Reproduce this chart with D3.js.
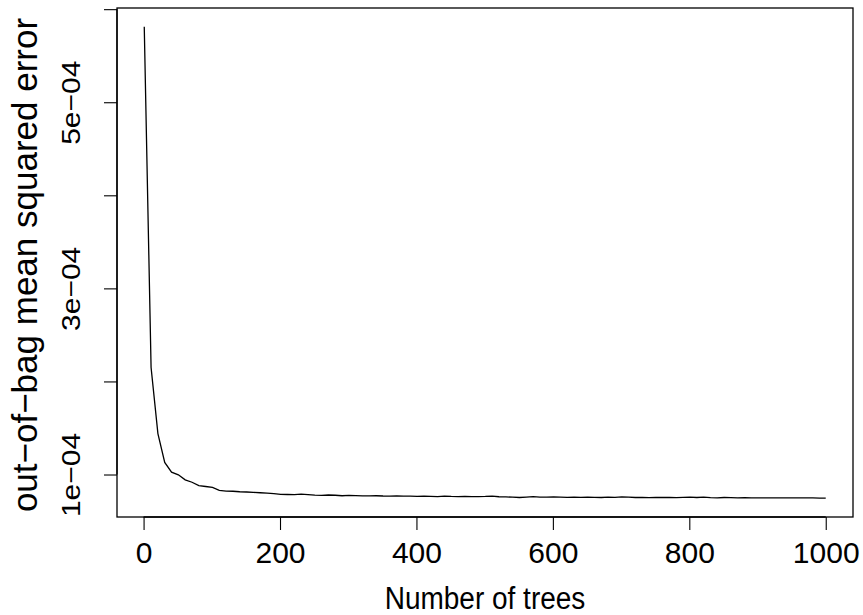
<!DOCTYPE html>
<html>
<head>
<meta charset="utf-8">
<script src="https://cdn.jsdelivr.net/npm/d3@7"></script>
<style>
  html, body { margin: 0; padding: 0; background: #fff; }
  text { font-family: "Liberation Sans", Arial, Helvetica, sans-serif; fill: #000; }
</style>
</head>
<body>
<script>
// trees at which the OOB error was recorded
const trees = [1, 11, 21, 31, 41, 51, 61, 71, 81, 91,
  101, 111, 121, 131, 141, 151, 161, 171, 181, 191,
  201, 211, 221, 231, 241, 251, 261, 271, 281, 291,
  301, 311, 321, 331, 341, 351, 361, 371, 381, 391,
  401, 411, 421, 431, 441, 451, 461, 471, 481, 491,
  501, 511, 521, 531, 541, 551, 561, 571, 581, 591,
  601, 611, 621, 631, 641, 651, 661, 671, 681, 691,
  701, 711, 721, 731, 741, 751, 761, 771, 781, 791,
  801, 811, 821, 831, 841, 851, 861, 871, 881, 891,
  901, 911, 921, 931, 941, 951, 961, 971, 981, 991, 1000];

// out-of-bag MSE, in units of 1e-04
const mse = [5.81, 2.15, 1.44, 1.13, 1.025, 0.997, 0.943, 0.917, 0.880, 0.871,
  0.862, 0.830, 0.822, 0.820, 0.815, 0.812, 0.808, 0.804, 0.800, 0.794,
  0.787, 0.785, 0.783, 0.790, 0.784, 0.778, 0.776, 0.780, 0.777, 0.772,
  0.775, 0.774, 0.771, 0.770, 0.772, 0.769, 0.768, 0.770, 0.767, 0.768,
  0.766, 0.768, 0.765, 0.763, 0.768, 0.764, 0.762, 0.765, 0.763, 0.762,
  0.764, 0.768, 0.761, 0.759, 0.757, 0.753, 0.758, 0.762, 0.758, 0.756,
  0.759, 0.757, 0.755, 0.757, 0.754, 0.756, 0.755, 0.753, 0.756, 0.754,
  0.760, 0.756, 0.753, 0.755, 0.752, 0.754, 0.753, 0.755, 0.752, 0.754,
  0.757, 0.753, 0.758, 0.752, 0.750, 0.753, 0.751, 0.749, 0.751, 0.750,
  0.749, 0.748, 0.750, 0.749, 0.750, 0.749, 0.748, 0.749, 0.748, 0.747, 0.746];

const xTicks = [0, 200, 400, 600, 800, 1000];
const yTicks = [1, 2, 3, 4, 5, 6];
const yLabelled = [1, 3, 5];

const W = 863, H = 615;
const box = { left: 117, right: 853, top: 8, bottom: 517 };

const data = trees.map((t, i) => ({ t: t, v: mse[i] }));

// R style axis extension: 4% each side
function rlim(ext) {
  const pad = (ext[1] - ext[0]) * 0.04;
  return [ext[0] - pad, ext[1] + pad];
}

const x = d3.scaleLinear().domain(rlim(d3.extent(trees))).range([box.left, box.right]);
const y = d3.scaleLinear().domain(rlim(d3.extent(mse))).range([box.bottom, box.top]);

const svg = d3.select('body').append('svg')
  .attr('width', W).attr('height', H);

svg.append('rect')
  .attr('x', box.left).attr('y', box.top)
  .attr('width', box.right - box.left).attr('height', box.bottom - box.top)
  .attr('fill', 'none').attr('stroke', '#000').attr('stroke-width', 1.3);

svg.append('path')
  .datum(data)
  .attr('fill', 'none')
  .attr('stroke', '#000')
  .attr('stroke-width', 1.3)
  .attr('d', d3.line().x(d => x(d.t)).y(d => y(d.v)));

const ff = '"Liberation Sans", Arial, sans-serif';

// x axis
const xAxis = svg.append('g')
  .attr('transform', `translate(0,${box.bottom})`)
  .call(d3.axisBottom(x).tickValues(xTicks).tickSize(13).tickSizeOuter(0)
    .tickFormat(d3.format('d')));
xAxis.select('.domain').attr('d', `M${x(xTicks[0])},0H${x(xTicks[xTicks.length - 1])}`)
  .attr('stroke-width', 1.3);
xAxis.selectAll('.tick line').attr('stroke-width', 1.1);
xAxis.selectAll('.tick text')
  .attr('dy', null)
  .attr('y', 46)
  .style('font-size', '30px')
  .style('font-family', ff);

// y axis
const yAxis = svg.append('g')
  .attr('transform', `translate(${box.left},0)`)
  .call(d3.axisLeft(y).tickValues(yTicks).tickSize(13).tickSizeOuter(0)
    .tickFormat(d => yLabelled.includes(d) ? d + 'e\u221204' : ''));
yAxis.select('.domain').attr('d', `M0,${y(yTicks[0])}V${y(yTicks[yTicks.length - 1])}`)
  .attr('stroke-width', 1.3);
yAxis.selectAll('.tick line').attr('stroke-width', 1.1);
yAxis.selectAll('.tick text')
  .attr('x', null).attr('dy', null)
  .attr('transform', 'translate(-37,0) rotate(-90) scale(1,0.87)')
  .attr('text-anchor', 'middle')
  .style('font-size', '30px')
  .style('font-family', ff);

// axis titles
svg.append('text')
  .attr('transform', `translate(${(box.left + box.right) / 2},609) scale(1,1.1)`)
  .attr('text-anchor', 'middle')
  .style('font-size', '28px')
  .text('Number of trees');

svg.append('text')
  .attr('transform', `translate(37,265) rotate(-90)`)
  .attr('text-anchor', 'middle')
  .style('font-size', '35px')
  .text('out\u2212of\u2212bag mean squared error');
</script>
</body>
</html>
